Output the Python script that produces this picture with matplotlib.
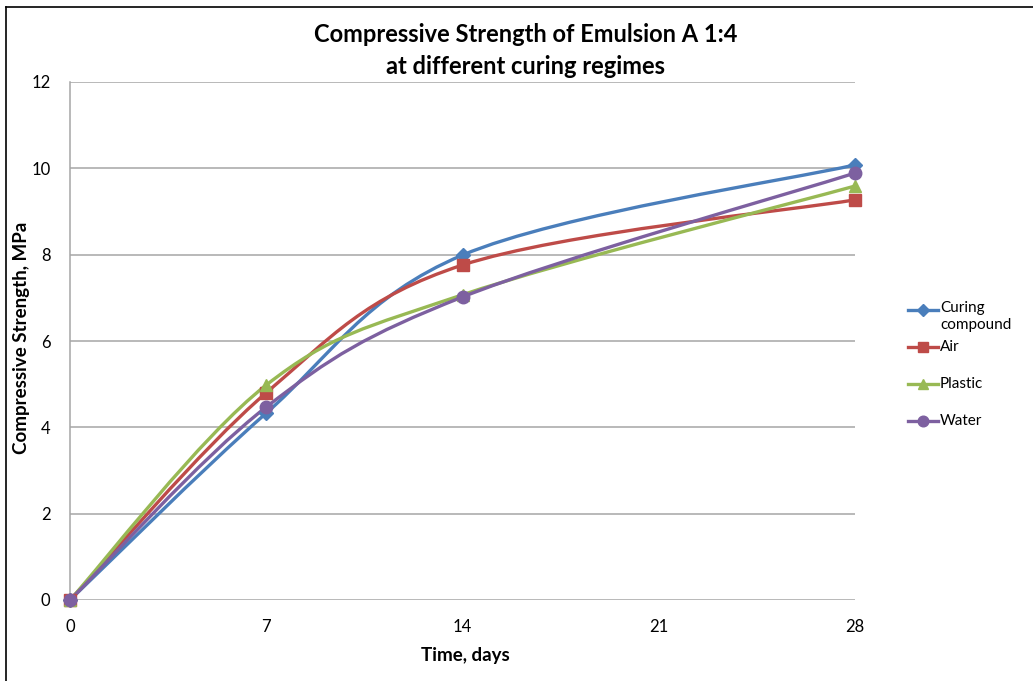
import matplotlib
matplotlib.use("Agg")
import matplotlib.pyplot as plt
from matplotlib.path import Path
from matplotlib.patches import PathPatch
from matplotlib.lines import Line2D
import numpy as np

plt.rcParams['font.family'] = ['Lato', 'DejaVu Sans']

days = [0, 7, 14, 28]
series_names = ["Curing\ncompound", "Air", "Plastic", "Water"]
curing = [0, 4.33, 7.99, 10.08]
air = [0, 4.80, 7.76, 9.27]
plastic = [0, 4.98, 7.07, 9.59]
water = [0, 4.47, 7.02, 9.89]
x_ticks = [0, 7, 14, 21, 28]
y_ticks = [0, 2, 4, 6, 8, 10, 12]

colors = ["#4A7EBB", "#BE4B48", "#98B954", "#7D60A0"]
markers = ["D", "s", "^", "o"]
msizes = [7, 8.5, 9, 9]

W, H = 1033, 681
fig = plt.figure(figsize=(W / 100, H / 100), dpi=100)
ax = fig.add_axes([70 / W, 1 - 600 / H, (855 - 70) / W, (600 - 82) / H])

def smooth_path(xs, ys):
    pts = np.column_stack([xs, ys]).astype(float)
    n = len(pts)
    verts = [pts[0]]
    codes = [Path.MOVETO]
    for i in range(n - 1):
        p0 = pts[i - 1] if i > 0 else pts[i]
        p1 = pts[i]
        p2 = pts[i + 1]
        p3 = pts[i + 2] if i + 2 < n else pts[i + 1]
        c1 = p1 + (p2 - p0) / 6.0
        c2 = p2 - (p3 - p1) / 6.0
        verts += [c1, c2, p2]
        codes += [Path.CURVE4] * 3
    return Path(verts, codes)

all_series = [curing, air, plastic, water]
for vals, c, m, ms in zip(all_series, colors, markers, msizes):
    patch = PathPatch(smooth_path(days, vals), facecolor="none", edgecolor=c,
                      lw=2.4, zorder=3, capstyle="round", joinstyle="round")
    ax.add_patch(patch)
    ax.plot(days, vals, linestyle="none", marker=m, color=c, markersize=ms,
            markeredgecolor=c, zorder=4, clip_on=False)

ax.set_xlim(0, 28)
ax.set_ylim(0, 12)
ax.set_xticks(x_ticks)
ax.set_yticks(y_ticks)
ax.grid(axis="y", color="#A6A6A6", lw=1.1)
ax.set_axisbelow(True)
for s in ["top", "right", "bottom"]:
    ax.spines[s].set_visible(False)
ax.spines["left"].set_color("#A6A6A6")
ax.spines["left"].set_linewidth(1.1)
ax.tick_params(length=0, labelsize=12, colors="#000000")
ax.tick_params(axis="x", pad=14)
ax.tick_params(axis="y", pad=14)

ax.set_xlabel("Time, days", fontsize=13.5, fontweight="bold")
ax.xaxis.set_label_coords((465 - 70) / 785, -(655 - 600) / 518)
ax.set_ylabel("Compressive Strength, MPa", fontsize=13.5, fontweight="bold")
ax.yaxis.set_label_coords(-(70 - 22) / 785, (600 - 338) / 518)
ax.xaxis.label.set_va("center")
ax.yaxis.label.set_va("center")

fig.text(526 / W, 1 - 34 / H, "Compressive Strength of Emulsion A 1:4",
         ha="center", va="center", fontsize=17, fontweight="bold")
fig.text(526 / W, 1 - 67 / H, "at different curing regimes",
         ha="center", va="center", fontsize=17, fontweight="bold")

# legend
leg_y = [310, 347, 384, 421]
for name, c, m, ms, yy in zip(series_names, colors, markers, msizes, leg_y):
    yf = 1 - yy / H
    fig.add_artist(Line2D([908 / W, 938 / W], [yf, yf], color=c, lw=2.4))
    fig.add_artist(Line2D([923 / W], [yf], marker=m, color=c, markersize=ms * 0.85))
    if "\n" in name:
        fig.text(940 / W, yf + 9 / H, name, ha="left", va="top", fontsize=11, linespacing=1.3)
    else:
        fig.text(940 / W, yf, name, ha="left", va="center", fontsize=11)

# figure border
fig.add_artist(Line2D([6 / W, 6 / W], [0, 1 - 7 / H], color="black", lw=1.2))
fig.add_artist(Line2D([6 / W, 1], [1 - 7 / H, 1 - 7 / H], color="black", lw=1.2))

fig.savefig("out.png", dpi=100)
